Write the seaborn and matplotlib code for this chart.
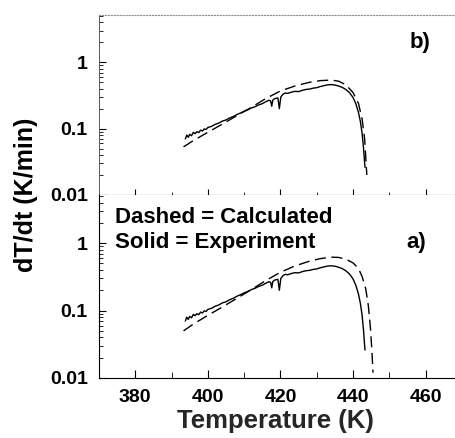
import numpy as np
import pandas as pd
import matplotlib
matplotlib.use('Agg')
import matplotlib.pyplot as plt
from matplotlib.ticker import LogLocator, NullFormatter, FixedLocator
import seaborn as sns

# Experiment (solid) - same measured run in both panels
temp_exp = [393.8, 394.2, 394.6, 395.0, 395.5, 396.0, 396.5, 397.0, 397.5, 398.0,
            398.5, 399.0, 399.5, 400.0, 401.0, 402.0, 403.0, 404.0, 405.0, 406.0,
            407.0, 408.0, 409.0, 410.0, 411.0, 412.0, 413.0, 414.0, 415.0, 416.0,
            416.8, 417.3, 417.6, 417.9, 418.5, 419.3, 419.7, 420.1, 420.7, 421.3,
            422.0, 423.0, 424.0, 425.0, 426.0, 427.0, 428.0, 429.0, 430.0, 431.0,
            432.0, 433.0, 434.0, 435.0, 436.0, 437.0, 438.0, 439.0, 440.0, 440.8,
            441.5, 442.0, 442.5, 442.9, 443.2, 443.3]
rate_exp = [0.070, 0.080, 0.074, 0.082, 0.078, 0.088, 0.084, 0.090, 0.087, 0.095,
            0.092, 0.099, 0.097, 0.104, 0.108, 0.116, 0.121, 0.130, 0.135, 0.145,
            0.152, 0.163, 0.172, 0.183, 0.192, 0.205, 0.214, 0.228, 0.238, 0.255,
            0.268, 0.262, 0.218, 0.270, 0.285, 0.290, 0.200, 0.300, 0.330, 0.345,
            0.340, 0.355, 0.365, 0.362, 0.378, 0.390, 0.395, 0.408, 0.415, 0.432,
            0.445, 0.458, 0.462, 0.455, 0.440, 0.420, 0.390, 0.350, 0.295, 0.235,
            0.175, 0.130, 0.085, 0.050, 0.030, 0.026]

# Calculated (dashed), panel a
temp_calc_a = [393.3, 396, 400, 404, 408, 412, 416, 420, 424, 428, 431, 434, 436,
               438, 440, 441.5, 442.5, 443.5, 444.2, 444.8, 445.2, 445.5]
rate_calc_a = [0.050, 0.063, 0.085, 0.113, 0.152, 0.205, 0.280, 0.370, 0.460, 0.540,
               0.590, 0.620, 0.615, 0.580, 0.510, 0.420, 0.320, 0.210, 0.120, 0.055,
               0.025, 0.012]

# Calculated (dashed), panel b
temp_calc_b = [393.3, 396, 400, 404, 408, 412, 416, 420, 424, 428, 431, 434, 436,
               438, 440, 441.5, 442.5, 443.2, 443.6, 443.8]
rate_calc_b = [0.053, 0.066, 0.088, 0.117, 0.157, 0.210, 0.285, 0.370, 0.440, 0.500,
               0.530, 0.540, 0.520, 0.460, 0.350, 0.240, 0.140, 0.070, 0.030, 0.020]

x_ticks = [380, 400, 420, 440, 460]
y_ticks = [0.01, 0.1, 1]
y_labels = ['0.01', '0.1', '1']

sns.set_style('ticks')
plt.rcParams['font.family'] = ['Liberation Sans', 'DejaVu Sans']
plt.rcParams['font.weight'] = 'bold'
plt.rcParams['text.color'] = 'black'
plt.rcParams['xtick.color'] = 'black'
plt.rcParams['ytick.color'] = 'black'
plt.rcParams['axes.edgecolor'] = 'black'

fig = plt.figure(figsize=(4.56, 4.38), dpi=100)
ax_b = fig.add_axes([0.217, 0.555, 0.796, 0.411])
ax_a = fig.add_axes([0.217, 0.137, 0.796, 0.418])

dash = (0, (8, 4))
sns.lineplot(x=temp_exp, y=rate_exp, ax=ax_a, color='k', lw=1.0, sort=False, estimator=None)
sns.lineplot(x=temp_calc_a, y=rate_calc_a, ax=ax_a, color='k', lw=1.0, linestyle=dash,
             sort=False, estimator=None)
sns.lineplot(x=temp_exp, y=rate_exp, ax=ax_b, color='k', lw=1.0, sort=False, estimator=None)
sns.lineplot(x=temp_calc_b, y=rate_calc_b, ax=ax_b, color='k', lw=1.0, linestyle=dash,
             sort=False, estimator=None)

for ax in (ax_a, ax_b):
    ax.set_yscale('log')
    ax.set_xlim(370, 470)
    ax.set_ylim(0.01, 5.2)
    ax.yaxis.set_major_locator(FixedLocator(y_ticks))
    ax.set_yticklabels(y_labels, fontsize=14, fontweight='bold', color='black')
    ax.yaxis.set_minor_locator(LogLocator(base=10, subs=np.arange(2, 10)))
    ax.yaxis.set_minor_formatter(NullFormatter())
    ax.xaxis.set_major_locator(FixedLocator(x_ticks))
    ax.xaxis.set_minor_locator(FixedLocator([370, 390, 410, 430, 450, 470]))
    ax.tick_params(axis='y', which='major', direction='in', length=5, width=0.8, pad=8)
    ax.tick_params(axis='y', which='minor', direction='in', length=3, width=0.6)
    ax.spines['right'].set_visible(False)
    ax.set_xlabel('')
    ax.set_ylabel('')

# bottom panel (a)
ax_a.spines['top'].set_visible(False)
ax_a.tick_params(axis='x', which='major', direction='in', length=6, width=0.8,
                 labelsize=14, pad=8)
ax_a.tick_params(axis='x', which='minor', direction='in', length=4, width=0.6)
for lab in ax_a.get_xticklabels():
    lab.set_fontweight('bold')
ax_a.set_xlabel('Temperature (K)', fontsize=18.5, fontweight='bold')
ax_a.xaxis.set_label_coords(0.485, -0.17)

# top panel (b)
ax_b.spines['top'].set_color('0.55')
ax_b.spines['top'].set_linestyle(':')
ax_b.spines['left'].set_color('0.35')
ax_b.spines['left'].set_linewidth(0.7)
ax_b.tick_params(axis='x', which='major', direction='inout', length=8, width=0.8,
                 labelbottom=False)
ax_b.tick_params(axis='x', which='minor', direction='inout', length=5, width=0.6)

ax_b.text(0.855, 0.845, 'b)', transform=ax_b.transAxes, fontsize=16, fontweight='bold',
          va='center')
ax_a.text(0.848, 0.738, 'a)', transform=ax_a.transAxes, fontsize=16, fontweight='bold',
          va='center')
ax_a.text(0.043, 0.874, 'Dashed = Calculated', transform=ax_a.transAxes,
          fontsize=16, fontweight='bold', va='center')
ax_a.text(0.043, 0.738, 'Solid = Experiment', transform=ax_a.transAxes,
          fontsize=16, fontweight='bold', va='center')

fig.text(0.057, 0.555, 'dT/dt (K/min)', rotation=90, fontsize=18, fontweight='bold',
         va='center', ha='center')

fig.savefig('out.png', dpi=100)
